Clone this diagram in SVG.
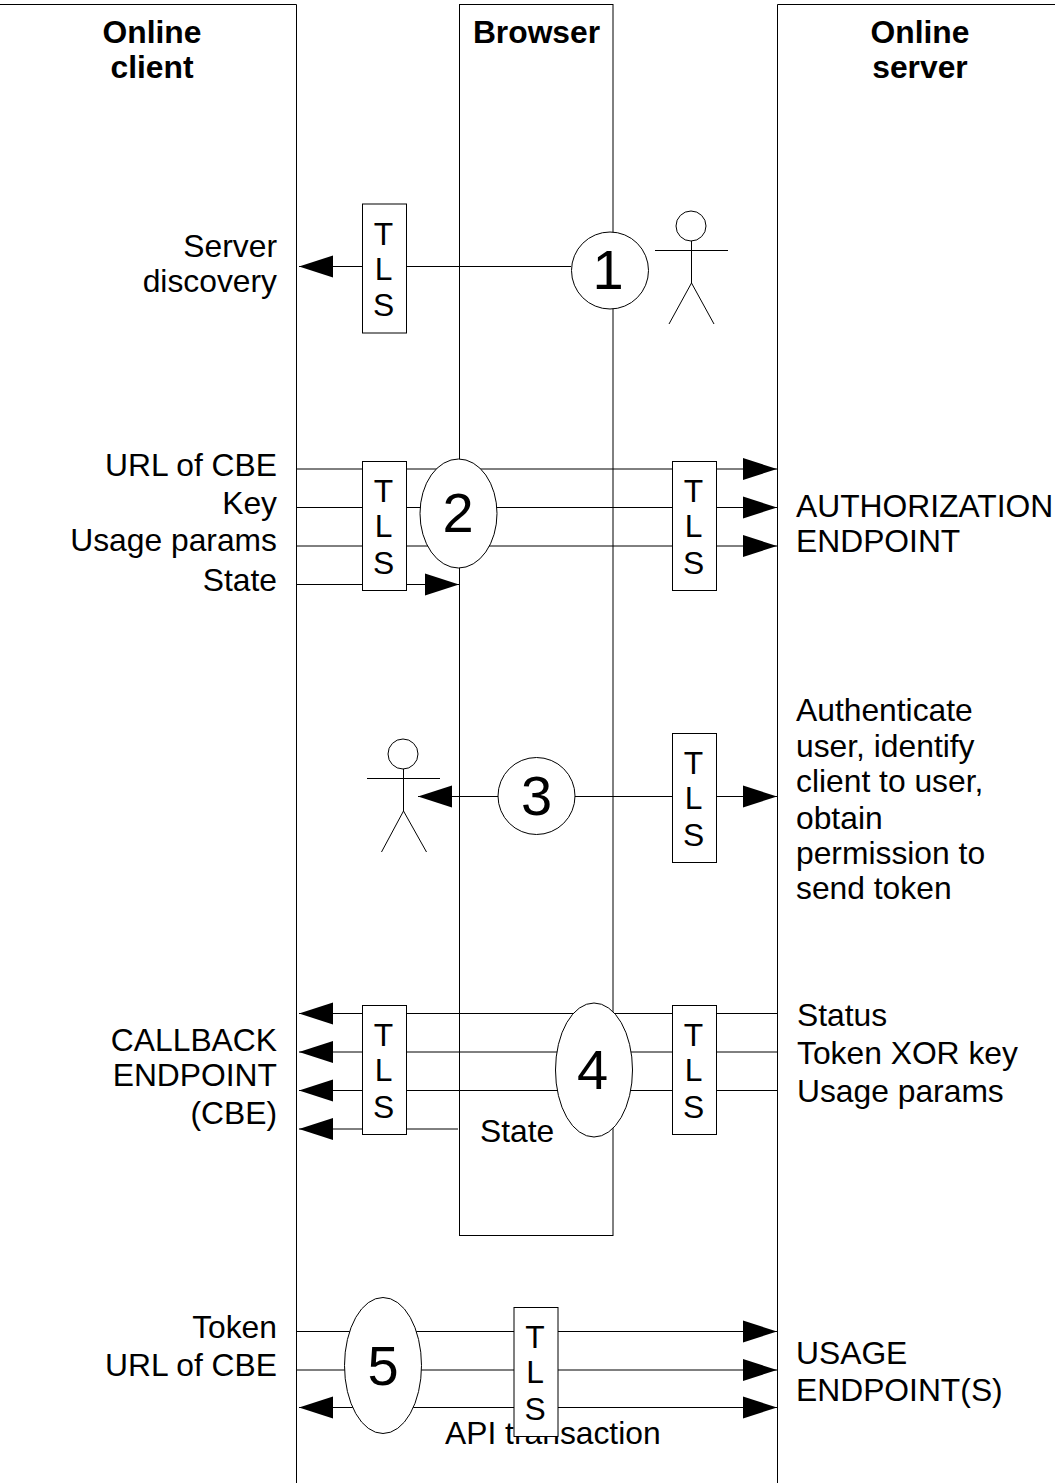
<svg xmlns="http://www.w3.org/2000/svg" width="1055" height="1483" viewBox="0 0 1055 1483">
<defs>
<marker id="ah" markerUnits="userSpaceOnUse" markerWidth="34" markerHeight="24" refX="34" refY="11.5" orient="auto-start-reverse"><path d="M0 0.5L34 11.5L0 22.5Z" fill="#000"/></marker>
</defs>
<style>
text{font-family:"Liberation Sans",Arial,sans-serif;font-size:31.8px;fill:#000}
.b{font-weight:bold;text-anchor:middle}
.r{text-anchor:end}
.m{text-anchor:middle}
.n{font-size:56px;text-anchor:middle}
.s{fill:#fff;stroke:#000;stroke-width:1}
.l{fill:none;stroke:#000;stroke-width:1}
.a{marker-end:url(#ah)}
.a2{marker-start:url(#ah);marker-end:url(#ah)}
</style>
<rect width="1055" height="1483" fill="#fff"/>
<g id="online-client"><path class="l" d="M-2 4.500H296.500V1490"/><text class="b" x="152" y="43">Online</text><text class="b" x="152" y="78">client</text></g>
<g id="online-server"><path class="l" d="M1057 4.500H777.500V1490"/><text class="b" x="920" y="43">Online</text><text class="b" x="920" y="78">server</text></g>
<g id="browser"><rect class="l" x="459.500" y="4.500" width="153.500" height="1231"/><text class="b" x="536.500" y="43">Browser</text></g>
<g id="connectors">
<line class="l a" x1="571" y1="266.500" x2="299" y2="266.500"/>
<line class="l a" x1="297" y1="469" x2="777" y2="469"/>
<line class="l a" x1="297" y1="507.500" x2="777" y2="507.500"/>
<line class="l a" x1="297" y1="546" x2="777" y2="546"/>
<line class="l a" x1="297" y1="584.500" x2="459" y2="584.500"/>
<line class="l a" x1="536" y1="796.500" x2="418" y2="796.500"/>
<line class="l a" x1="536" y1="796.500" x2="777" y2="796.500"/>
<line class="l a" x1="777" y1="1013.500" x2="299" y2="1013.500"/>
<line class="l a" x1="777" y1="1052" x2="299" y2="1052"/>
<line class="l a" x1="777" y1="1090.500" x2="299" y2="1090.500"/>
<line class="l a" x1="458" y1="1129" x2="299" y2="1129"/>
<line class="l a" x1="297" y1="1331.500" x2="777" y2="1331.500"/>
<line class="l a" x1="297" y1="1370" x2="777" y2="1370"/>
<line class="l a2" x1="299" y1="1407.500" x2="777" y2="1407.500"/>
</g>
<text x="445" y="1444">API transaction</text>
<g id="tls-1"><rect class="s" x="362.500" y="204" width="44" height="129"/><text class="m" x="383.500" y="245">T</text><text class="m" x="383.500" y="280">L</text><text class="m" x="383.500" y="316">S</text></g>
<g id="tls-2a"><rect class="s" x="362.500" y="461.500" width="44" height="129"/><text class="m" x="383.500" y="502">T</text><text class="m" x="383.500" y="537">L</text><text class="m" x="383.500" y="573.500">S</text></g>
<g id="tls-2b"><rect class="s" x="672.500" y="461.500" width="44" height="129"/><text class="m" x="693.500" y="502">T</text><text class="m" x="693.500" y="537">L</text><text class="m" x="693.500" y="573.500">S</text></g>
<g id="tls-3"><rect class="s" x="672.500" y="733.500" width="44" height="129"/><text class="m" x="693.500" y="774">T</text><text class="m" x="693.500" y="809">L</text><text class="m" x="693.500" y="845.500">S</text></g>
<g id="tls-4a"><rect class="s" x="362.500" y="1005.500" width="44" height="129"/><text class="m" x="383.500" y="1046">T</text><text class="m" x="383.500" y="1081">L</text><text class="m" x="383.500" y="1117.500">S</text></g>
<g id="tls-4b"><rect class="s" x="672.500" y="1005.500" width="44" height="129"/><text class="m" x="693.500" y="1046">T</text><text class="m" x="693.500" y="1081">L</text><text class="m" x="693.500" y="1117.500">S</text></g>
<g id="tls-5"><rect class="s" x="514" y="1307.500" width="44" height="129"/><text class="m" x="535" y="1348">T</text><text class="m" x="535" y="1383">L</text><text class="m" x="535" y="1420">S</text></g>
<g id="step-1"><ellipse class="s" cx="610" cy="270.500" rx="38.500" ry="38.500"/><text class="n" x="608" y="289">1</text></g>
<g id="step-2"><ellipse class="s" cx="458.500" cy="513.500" rx="38.500" ry="54.500"/><text class="n" x="458" y="532">2</text></g>
<g id="step-3"><ellipse class="s" cx="536.500" cy="796" rx="38.500" ry="38.500"/><text class="n" x="536.500" y="815">3</text></g>
<g id="step-4"><ellipse class="s" cx="594" cy="1070" rx="38.500" ry="67"/><text class="n" x="592.500" y="1089">4</text></g>
<g id="step-5"><ellipse class="s" cx="383" cy="1365.500" rx="38.500" ry="68"/><text class="n" x="383" y="1385">5</text></g>
<g id="user-1"><circle class="s" cx="691" cy="226" r="15"/><path class="l" d="M655 250.500H728M691.500 241V283L669 324M691.500 283L714 324"/></g>
<g id="user-2"><circle class="s" cx="403" cy="754" r="15"/><path class="l" d="M367 778.500H440M403.500 769V811L381.500 852M403.500 811L426.500 852"/></g>
<g id="labels-client">
<text class="r" x="277" y="257">Server</text><text class="r" x="277" y="292">discovery</text>
<text class="r" x="277" y="476">URL of CBE</text><text class="r" x="277" y="514">Key</text><text class="r" x="277" y="551">Usage params</text><text class="r" x="277" y="591">State</text>
<text class="r" x="277" y="1051">CALLBACK</text><text class="r" x="277" y="1086">ENDPOINT</text><text class="r" x="277" y="1124">(CBE)</text>
<text class="r" x="277" y="1338">Token</text><text class="r" x="277" y="1376">URL of CBE</text>
</g>
<g id="labels-server">
<text x="796" y="517">AUTHORIZATION</text><text x="796" y="552">ENDPOINT</text>
<text x="796" y="721">Authenticate</text><text x="796" y="757">user, identify</text><text x="796" y="792">client to user,</text><text x="796" y="829">obtain</text><text x="796" y="864">permission to</text><text x="796" y="899">send token</text>
<text x="797" y="1026">Status</text><text x="797" y="1064">Token XOR key</text><text x="797" y="1102">Usage params</text>
<text x="796" y="1364">USAGE</text><text x="796" y="1401">ENDPOINT(S)</text>
</g>
<text x="480" y="1142">State</text>
</svg>
